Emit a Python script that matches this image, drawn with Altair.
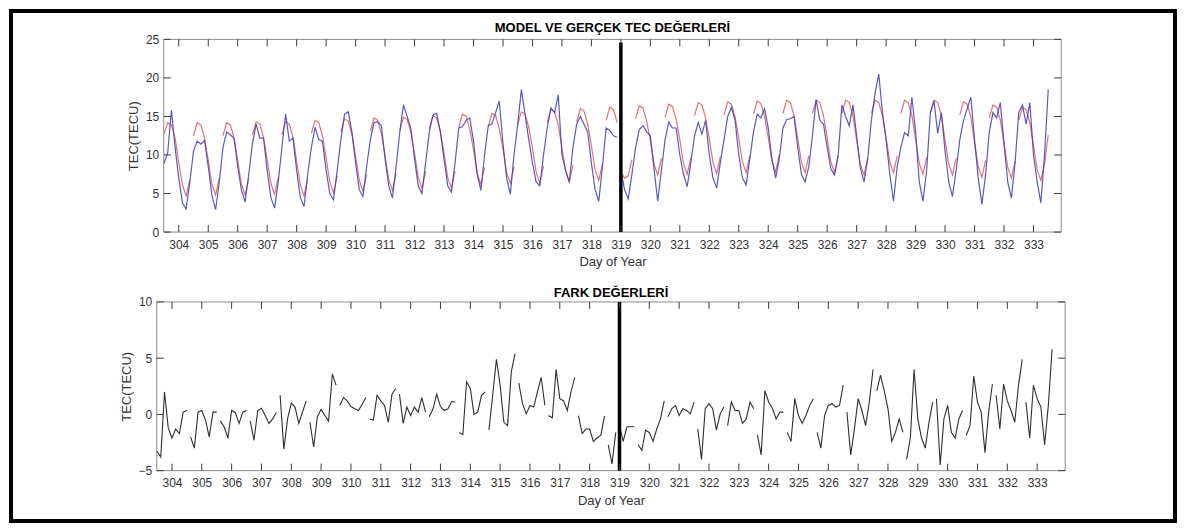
import math
import altair as alt
import pandas as pd

# ---------------- data (3-hour samples from day 303.5) ----------------
START_DAY = 303.5
STEP_DAYS = 0.125
SPLIT_DAY = 319.0

GERCEK_TEC = [
    8.9, 10.3, 15.8, 11.0, 7.0, 3.8, 3.0, 6.5,
    10.5, 11.8, 11.4, 11.9, 8.5, 4.8, 2.9, 6.5,
    11.0, 13.0, 12.6, 12.2, 8.5, 5.5, 3.9, 7.5,
    11.5, 14.0, 12.2, 12.2, 8.0, 4.5, 3.1, 6.5,
    11.0, 15.3, 11.8, 12.2, 8.0, 4.5, 3.3, 7.5,
    11.0, 13.6, 12.0, 11.8, 8.0, 5.0, 4.2, 8.0,
    12.0, 15.3, 15.6, 13.0, 9.0, 5.5, 4.6, 8.5,
    12.0, 14.2, 14.3, 13.8, 9.5, 6.0, 4.4, 8.5,
    13.0, 16.5, 15.0, 13.5, 9.5, 6.0, 5.0, 9.0,
    13.0, 15.2, 15.4, 13.0, 9.5, 6.0, 5.2, 9.0,
    13.5, 13.7, 14.5, 14.8, 11.8, 7.5, 5.4, 10.0,
    13.8, 14.0, 15.5, 17.0, 11.5, 7.0, 4.9, 10.0,
    14.0, 18.5, 15.2, 12.0, 9.0, 6.5, 6.0, 10.0,
    13.5, 16.1, 15.5, 17.8, 10.0, 8.0, 6.5, 11.0,
    14.0, 15.0, 14.0, 13.0, 9.0, 5.5, 4.0, 8.5,
    13.5, 13.2, 12.5, 12.3, 8.0, 5.5, 4.3, 7.5,
    11.0, 13.3, 13.8, 13.0, 12.5, 8.2, 4.0, 8.0,
    12.0, 14.3, 13.5, 13.5, 10.0, 7.5, 5.9, 9.0,
    12.5, 14.2, 12.7, 14.5, 10.0, 7.0, 5.7, 9.0,
    12.0, 15.0, 16.2, 14.5, 10.0, 7.0, 6.1, 9.5,
    13.0, 15.3, 14.8, 16.0, 13.5, 9.5, 7.0, 9.5,
    13.5, 14.6, 14.7, 15.0, 11.0, 7.5, 6.5, 8.5,
    12.5, 17.2, 14.5, 14.0, 11.0, 8.2, 7.4, 10.0,
    16.5, 15.0, 13.8, 16.5, 12.5, 8.3, 6.5, 9.5,
    14.5, 18.0, 20.5, 15.5, 12.0, 7.5, 4.0, 8.5,
    11.0, 12.9, 12.5, 17.5, 13.0, 6.5, 4.0, 8.0,
    15.5, 17.0, 12.8, 15.5, 10.5, 6.5, 4.6, 8.0,
    12.0, 14.5, 16.0, 17.5, 12.0, 7.0, 3.6, 7.5,
    13.0, 15.5, 14.8, 16.8, 11.5, 6.5, 4.4, 9.0,
    15.5, 16.5, 14.0, 16.8, 10.0, 6.5, 3.8, 10.0,
    18.5,
]

MODEL_TEC = [
    12.7, 14.2, 13.9, 12.2, 9.0, 6.1, 4.7, 6.8,
    12.5, 14.2, 13.9, 12.2, 9.3, 6.2, 4.8, 7.0,
    12.5, 14.2, 13.9, 12.2, 9.3, 6.2, 4.8, 7.0,
    12.6, 14.3, 14.0, 12.3, 9.4, 6.3, 4.9, 7.1,
    12.6, 14.3, 14.0, 12.3, 9.2, 6.1, 4.7, 6.9,
    12.8, 14.5, 14.2, 12.5, 9.6, 6.5, 5.1, 7.3,
    13.0, 14.7, 14.4, 12.7, 9.8, 6.7, 5.3, 7.5,
    13.1, 14.8, 14.5, 12.8, 9.9, 6.8, 5.4, 7.6,
    13.2, 14.9, 14.6, 12.9, 10.2, 7.1, 5.7, 7.9,
    13.4, 15.1, 14.8, 13.1, 10.2, 7.1, 5.7, 7.9,
    13.6, 15.3, 15.0, 13.3, 10.7, 7.6, 6.2, 8.4,
    13.7, 15.4, 15.1, 13.4, 10.8, 7.7, 6.3, 8.5,
    13.9, 15.6, 15.3, 13.6, 10.9, 7.8, 6.4, 8.6,
    14.2, 15.9, 15.6, 13.9, 11.0, 7.9, 6.5, 8.7,
    14.3, 16.0, 15.7, 14.0, 11.2, 8.1, 6.7, 8.9,
    14.5, 16.2, 15.9, 14.2, 7.8, 7.0, 7.3, 9.4,
    14.7, 16.4, 16.1, 14.4, 11.9, 8.8, 7.4, 9.6,
    14.9, 16.6, 16.3, 14.6, 12.0, 8.9, 7.5, 9.7,
    15.1, 16.8, 16.5, 14.8, 12.1, 9.0, 7.6, 9.8,
    15.2, 16.9, 16.6, 14.9, 12.2, 9.1, 7.7, 9.9,
    15.3, 17.0, 16.7, 15.0, 12.3, 9.2, 7.8, 10.0,
    15.4, 17.1, 16.8, 15.1, 12.2, 9.1, 7.7, 9.9,
    15.4, 17.1, 16.8, 15.1, 12.2, 9.1, 7.7, 9.9,
    15.4, 17.1, 16.8, 15.1, 11.9, 8.8, 7.4, 9.6,
    15.4, 17.1, 16.8, 15.1, 12.2, 9.1, 7.7, 9.9,
    15.4, 17.1, 16.8, 15.1, 12.0, 8.9, 7.5, 9.7,
    15.4, 17.1, 16.8, 15.1, 11.9, 8.8, 7.4, 9.6,
    15.2, 16.9, 16.6, 14.9, 11.6, 8.5, 7.1, 9.3,
    14.8, 16.5, 16.2, 14.5, 11.5, 8.4, 7.0, 9.2,
    14.5, 16.2, 15.9, 14.2, 11.2, 8.1, 6.7, 8.9,
    12.6,
]

FARK_TEC = [
    -3.3, -3.8, 2.0, -1.2, -2.1, -1.3, -1.7, 0.2,
    0.35, -2.0, -3.0, 0.2, 0.35, -0.5, -2.0, 0.2,
    0.2, -0.6, -1.1, -2.1, 0.35, 0.15, -0.8, 0.2,
    0.35, -0.6, -2.3, 0.35, 0.55, -0.1, -0.8, -0.4,
    0.2, 1.7, -3.1, -0.4, 1.0, 0.65, -0.8, 0.2,
    1.2, -0.7, -2.9, -0.2, 0.45, -0.1, -0.6, 3.6,
    2.6, 0.8, 1.5, 1.2, 0.7, 0.5, 0.35, 0.9,
    1.5, -0.4, -0.5, 1.7, 1.2, 0.8, -0.7, 1.8,
    2.3, 1.8, -0.8, 0.65, -0.1, 0.65, 0.2, 1.5,
    0.2, -0.2, 0.5, 1.8, 0.7, 0.35, 0.5, 1.15,
    1.1, -1.6, -1.8, 2.9, 2.3, 0.0, 0.2, 1.7,
    2.0, -1.4, 1.7, 4.9, 2.6, -0.7, -1.0, 3.8,
    5.4, 2.8, 0.95, 0.05, 0.8, 0.65, 2.0, 3.3,
    0.8, -0.1, -0.3, 4.0, 1.4, 1.2, 0.35, 2.0,
    3.3, -0.1, -1.7, -1.3, -1.3, -2.4, -2.1, -1.85,
    -0.15, -2.7, -4.4, -1.6, -1.0, -2.4, -1.1, -1.1,
    -1.1, -2.7, -3.2, -1.4, -1.6, -2.4, -1.3, -0.4,
    1.2, -0.2, 0.5, 0.8, -0.1, 0.5, 0.35, 0.05,
    1.1, -1.3, -4.0, 0.5, 0.95, 0.5, -1.4, 0.05,
    0.65, -1.0, 1.1, 0.35, 0.35, -0.8, -0.4, 1.1,
    0.5, -1.85, -3.6, 2.1, 1.1, 0.55, -0.4, 0.2,
    0.2, -1.6, -2.4, 1.4, -0.1, -0.8, -0.1, 0.8,
    1.4, -1.6, -3.0, -0.1, 0.8, 0.95, 0.65, 0.8,
    2.6, 0.2, -3.6, -1.3, 1.4, 0.35, -1.0, 1.1,
    4.0, 2.1, 3.5, 2.1, 0.5, -2.4, -1.6, -0.4,
    -1.6, -4.0, -2.1, 4.0, -0.4, -2.1, -3.0, -0.7,
    1.1, 1.4, -4.5, -0.4, 0.8, -1.6, -2.1, -0.4,
    0.35, -1.85, -1.0, 3.4, 1.1, 0.2, -3.4, 0.2,
    2.7, 1.7, -1.3, 2.7, 1.2, 0.35, -0.7, 2.6,
    4.9, 1.1, -2.1, 2.6, 1.4, 0.65, -2.7, 0.8,
    5.8,
]

TICK_DAYS = list(range(304, 334))
TOP_Y_TICKS = [0, 5, 10, 15, 20, 25]
BOT_Y_TICKS = [-5, 0, 5, 10]
X_DOMAIN = [303.49, 333.94]
TOP_Y_DOMAIN = [0, 25]
BOT_Y_DOMAIN = [-5, 10]
SPLIT_TOP = [0, 24.6]
SPLIT_BOT = [-5, 10]

TOP_TITLE = "MODEL VE GERÇEK TEC DEĞERLERİ"
BOT_TITLE = "FARK DEĞERLERİ"
X_TITLE = "Day of Year"
Y_TITLE = "TEC(TECU)"

# ---------------- styling ----------------
FONT = "Liberation Sans"
BLUE = "#3d3db2"
RED = "#e06464"
DIFF_COLOR = "#2f2f2f"
FRAME = "#8a8a8a"
TICK_COLOR = "#3a3a3a"
TXT = "#333333"
W = 910
H_TOP = 193
H_BOT = 169
TOP_X0, TOP_X1 = 7, 906
TICK = 7


def model_seg(d):
    # model curve is drawn day by day, with a break at the start of the test period
    s = min(math.floor(d - 0.5 + 1e-9), 332)
    return s + (1000 if d >= SPLIT_DAY else 0)


def fark_seg(d):
    s = max(math.floor(d - 0.625 + 1e-9), 303)
    return s + (1000 if d >= SPLIT_DAY else 0)


def day_axis(values):
    return [START_DAY + i * STEP_DAYS for i in range(len(values))]


blue_days = day_axis(GERCEK_TEC)
red_days = day_axis(MODEL_TEC)
diff_days = day_axis(FARK_TEC)
blue_df = pd.DataFrame({"day": blue_days, "tec": GERCEK_TEC,
                        "seg": [int(d >= SPLIT_DAY) for d in blue_days]})
red_df = pd.DataFrame({"day": red_days, "tec": MODEL_TEC,
                       "seg": [model_seg(d) for d in red_days]})
diff_df = pd.DataFrame({"day": diff_days, "tec": FARK_TEC,
                        "seg": [fark_seg(d) for d in diff_days]})
one = pd.DataFrame({"k": [0]})
tick_df = pd.DataFrame({"day": TICK_DAYS})


def x_enc(rng=None):
    if rng is None:
        sc = alt.Scale(domain=X_DOMAIN, nice=False, zero=False)
    else:
        sc = alt.Scale(domain=X_DOMAIN, range=rng, nice=False, zero=False)
    return alt.X("day:Q", scale=sc, title=X_TITLE,
                 axis=alt.Axis(values=TICK_DAYS, format="d", ticks=False, domain=False,
                               grid=False, labelPadding=7, titlePadding=6,
                               labelFlush=False, labelOverlap=False))


def y_enc(domain, ticks, offset):
    return alt.Y("tec:Q", scale=alt.Scale(domain=domain, nice=False, zero=False),
                 title=Y_TITLE,
                 axis=alt.Axis(values=ticks, format="d", ticks=False, domain=False,
                               grid=False, labelPadding=5, titlePadding=5, offset=offset))


def box(x0, x1, y0, y1, color, sw):
    return alt.Chart(one).mark_rect(fillOpacity=0, stroke=color, strokeWidth=sw).encode(
        x=alt.value(x0), x2=alt.value(x1), y=alt.value(y0), y2=alt.value(y1))


def title_text(text, x, y):
    return alt.Chart(pd.DataFrame({"t": [text]})).mark_text(
        font=FONT, fontSize=13, fontWeight="bold", color="black",
        align="center", baseline="alphabetic").encode(
        text="t:N", x=alt.value(x), y=alt.value(y))


def ticks_layers(X, Y, yticks, x0, x1, h):
    ytick_df = pd.DataFrame({"tec": yticks})
    return [
        alt.Chart(tick_df).mark_rule(color=TICK_COLOR, strokeWidth=1).encode(
            x=X, y=alt.value(h), y2=alt.value(h - TICK)),
        alt.Chart(tick_df).mark_rule(color=TICK_COLOR, strokeWidth=1).encode(
            x=X, y=alt.value(0), y2=alt.value(TICK)),
        alt.Chart(ytick_df).mark_rule(color=TICK_COLOR, strokeWidth=1).encode(
            y=Y, x=alt.value(x0), x2=alt.value(x0 + TICK)),
        alt.Chart(ytick_df).mark_rule(color=TICK_COLOR, strokeWidth=1).encode(
            y=Y, x=alt.value(x1 - TICK), x2=alt.value(x1)),
    ]


def split_rule(X, Y, span):
    d = pd.DataFrame({"day": [SPLIT_DAY], "tec": [span[0]], "tec2": [span[1]]})
    return alt.Chart(d).mark_rule(color="black", strokeWidth=3.5).encode(
        x=X, y=Y, y2=alt.Y2("tec2:Q"))


# ---------------- top panel ----------------
XT = x_enc([TOP_X0, TOP_X1])
YT = y_enc(TOP_Y_DOMAIN, TOP_Y_TICKS, -TOP_X0)

red_line = alt.Chart(red_df).mark_line(color=RED, strokeWidth=1.2, opacity=0.9).encode(
    x=XT, y=YT, detail="seg:N", order="day:Q")
blue_line = alt.Chart(blue_df).mark_line(color=BLUE, strokeWidth=1.2, opacity=0.85).encode(
    x=XT, y=YT, detail="seg:N", order="day:Q")

top = alt.layer(
    box(TOP_X0, TOP_X1, 0, H_TOP, FRAME, 1),
    box(-146, 1020, -28.5, 482.5, "black", 4),
    title_text(TOP_TITLE, (TOP_X0 + TOP_X1) / 2, -7),
    red_line,
    blue_line,
    split_rule(XT, YT, SPLIT_TOP),
    *ticks_layers(XT, YT, TOP_Y_TICKS, TOP_X0, TOP_X1, H_TOP),
).properties(width=W, height=H_TOP)

# ---------------- bottom panel ----------------
XB = x_enc()
YB = y_enc(BOT_Y_DOMAIN, BOT_Y_TICKS, 0)

diff_line = alt.Chart(diff_df).mark_line(color=DIFF_COLOR, strokeWidth=1.1).encode(
    x=XB, y=YB, detail="seg:N", order="day:Q")

bottom = alt.layer(
    box(0, W, 0, H_BOT, FRAME, 1),
    title_text(BOT_TITLE, W / 2, -4.5),
    diff_line,
    split_rule(XB, YB, SPLIT_BOT),
    *ticks_layers(XB, YB, BOT_Y_TICKS, 0, W, H_BOT),
).properties(width=W, height=H_BOT)

chart = alt.vconcat(top, bottom, spacing=70, bounds="flush").properties(
    padding=0, background="white"
).configure_view(stroke="transparent").configure_axis(
    labelFont=FONT, titleFont=FONT, labelFontSize=12, titleFontSize=13,
    labelColor=TXT, titleColor=TXT, titleFontWeight="normal",
)

chart.save("out.html", embed_options={"renderer": "svg", "actions": False})
